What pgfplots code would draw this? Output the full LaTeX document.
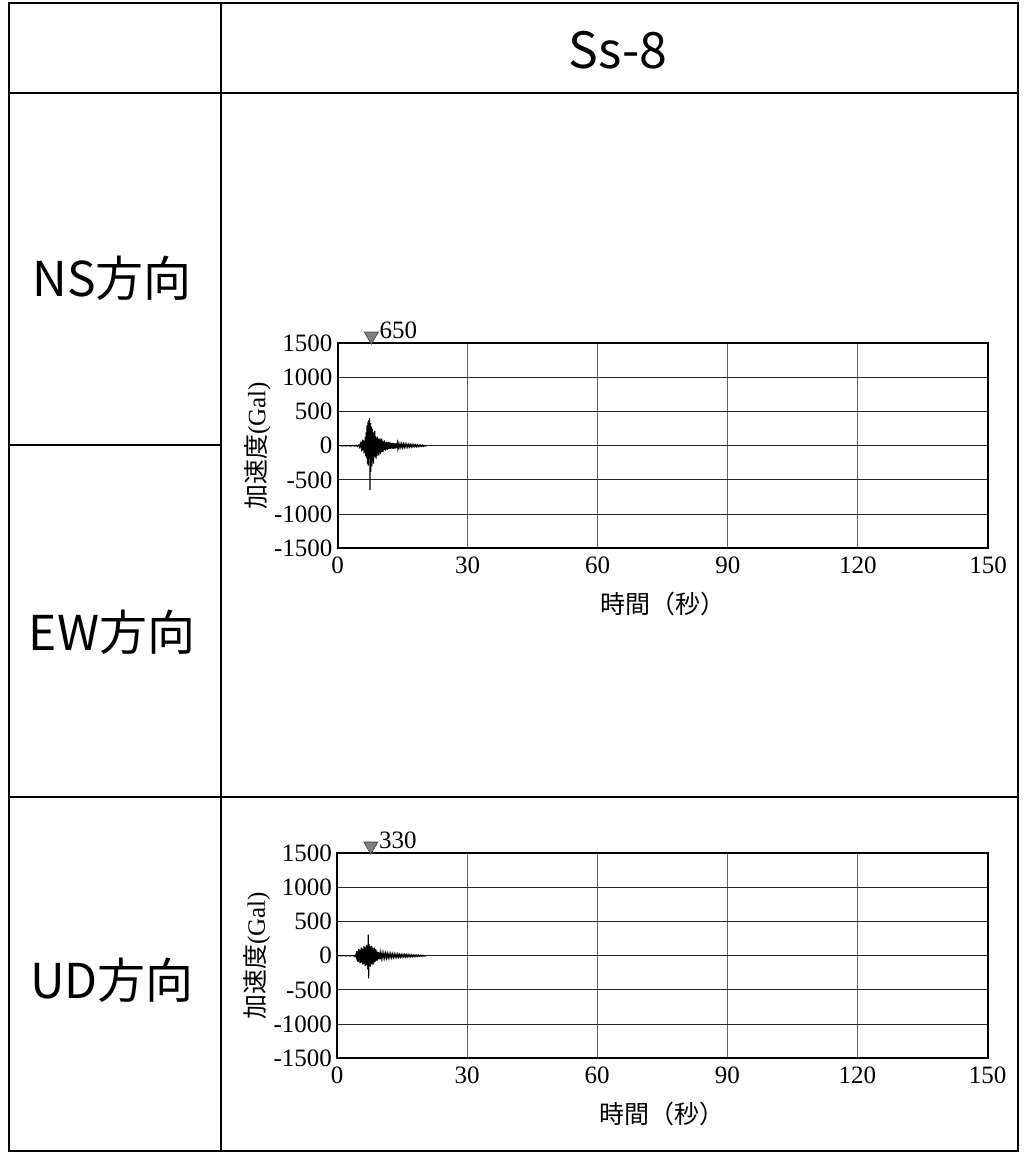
\documentclass[border=0pt]{standalone}
\usepackage{pgfplots}
\pgfplotsset{compat=1.18}
\usepackage{fontspec}
\setmainfont{Liberation Serif}
\newfontfamily\cjk{Noto Sans CJK JP}

\pgfplotsset{
  wave/.style={
    scale only axis, width=325.25pt, height=102.5pt,
    xmin=0, xmax=150, ymin=-1500, ymax=1500,
    xtick={0,30,60,90,120,150}, xticklabels={0,30,60,90,120,150},
    ytick={-1500,-1000,-500,0,500,1000,1500},
    yticklabels={-1500,-1000,-500,0,500,1000,1500},
    major tick length=0pt,
    grid=major,
    x grid style={black!60, line width=0.5pt},
    y grid style={black!85, line width=0.5pt},
    axis line style={line width=1pt},
    tick label style={font=\fontsize{12.5}{14}\selectfont},
    xticklabel style={yshift=-1pt},
    yticklabel style={xshift=1pt},
    xlabel={\cjk 時間（秒）},
    xlabel style={at={(axis description cs:0.5,0)}, anchor=center, yshift=-28pt, font=\fontsize{12.5}{14}\selectfont},
    ylabel={{\cjk 加速度}(Gal)},
    ylabel style={at={(axis description cs:-0.123,0.5)}, anchor=center, font=\fontsize{12.5}{14}\selectfont},
    clip=false,
  },
  peakmark/.style={only marks, mark=triangle*, mark size=4pt,
    mark options={rotate=180, fill=black!50, draw=black!70, line width=0.4pt, yshift=-3.6pt}},
}

\begin{document}
\begin{tikzpicture}
\useasboundingbox (0,0) rectangle (511.5pt,577.5pt);
% table frame
\draw[line width=1.3pt] (4.5pt,2pt) rectangle (509pt,576pt);
\draw[line width=1.3pt] (110.5pt,2pt) -- (110.5pt,576pt);
\draw[line width=1.3pt] (4.5pt,531pt) -- (509pt,531pt);
\draw[line width=1.3pt] (4.5pt,355pt) -- (110.5pt,355pt);
\draw[line width=1.3pt] (4.5pt,179pt) -- (509pt,179pt);
\node[font=\cjk\fontsize{25}{27}\selectfont] at (309pt,552.5pt) {Ss-8};
\node[font=\cjk\fontsize{24}{26}\selectfont] at (56pt,438.5pt) {NS方向};
\node[font=\cjk\fontsize{24}{26}\selectfont] at (56pt,261.5pt) {EW方向};
\node[font=\cjk\fontsize{24}{26}\selectfont] at (56pt,87.5pt) {UD方向};

% NS
\begin{axis}[wave, at={(168.75pt,303.35pt)}, anchor=south west]
\addplot[black, line width=0.55pt] coordinates {
(0,0) (0.5,2) (1,-2) (1.5,3) (2,-3) (2.5,4) (3,-4) (3.5,5) (4,-5) (4.3,8) (4.6,-10) (4.9,15)
(5.1,-20) (5.3,30) (5.5,-40) (5.6,60) (5.7,-70) (5.8,90) (5.9,-60) (6.0,80) (6.1,-110) (6.2,70)
(6.3,-90) (6.4,130) (6.5,-150) (6.6,200) (6.7,-180) (6.8,300) (6.9,-260) (7.0,350) (7.1,-290)
(7.2,380) (7.3,-200) (7.4,410) (7.5,-650) (7.6,330) (7.7,-380) (7.8,280) (7.9,-300) (8.0,250)
(8.1,-220) (8.2,200) (8.3,-260) (8.4,180) (8.5,-150) (8.6,220) (8.7,-170) (8.8,140) (8.9,-190)
(9.0,120) (9.1,-150) (9.2,130) (9.3,-110) (9.4,100) (9.5,-140) (9.6,110) (9.7,-100) (9.8,90)
(9.9,-120) (10.0,110) (10.1,-90) (10.2,100) (10.3,-80) (10.4,70) (10.5,-90) (10.6,60) (10.7,-70)
(10.8,80) (10.9,-60) (11.0,50) (11.1,-70) (11.2,60) (11.3,-50) (11.4,55) (11.5,-60) (11.6,45)
(11.7,-50) (11.8,60) (11.9,-45) (12.0,50) (12.1,-40) (12.2,45) (12.3,-50) (12.4,40) (12.5,-35)
(12.6,45) (12.7,-40) (12.8,35) (12.9,-45) (13.0,40) (13.1,-35) (13.2,30) (13.3,-40) (13.4,35)
(13.5,-30) (13.6,40) (13.7,-30) (13.8,28) (13.9,-32) (14.0,30) (14.2,-28) (14.4,32) (14.6,-26)
(14.8,30) (15.0,-25) (15.2,28) (15.4,-24) (15.6,26) (15.8,-22) (16.0,24) (16.2,-20) (16.4,22)
(16.6,-18) (16.8,20) (17.0,-17) (17.2,18) (17.4,-16) (17.6,17) (17.8,-14) (18.0,15) (18.2,-13)
(18.4,14) (18.6,-12) (18.8,12) (19.0,-10) (19.2,10) (19.4,-9) (19.6,9) (19.8,-8) (20.0,7)
(20.2,-5) (20.5,0)
};
\addplot[peakmark] coordinates {(7.8,1500)};
\node[anchor=base west, font=\fontsize{12.5}{14}\selectfont, inner sep=0pt] at (axis cs:9.6,1500) [yshift=2.5pt] {650};
\end{axis}

% UD
\begin{axis}[wave, at={(168.5pt,48.35pt)}, anchor=south west]
\addplot[black, line width=0.55pt] coordinates {
(0,0) (0.5,2) (1,-2) (1.5,3) (2,-3) (2.5,3) (3,-3) (3.5,4) (4.0,-5) (4.2,-10) (4.4,30) (4.5,-50)
(4.6,70) (4.7,-80) (4.8,60) (4.9,-90) (5.0,100) (5.1,-70) (5.2,90) (5.3,-110) (5.4,80) (5.5,-100)
(5.6,120) (5.7,-90) (5.8,110) (5.9,-130) (6.0,100) (6.1,-120) (6.2,140) (6.3,-110) (6.4,130)
(6.5,-150) (6.6,120) (6.7,-140) (6.8,160) (6.9,-120) (7.0,150) (7.1,-200) (7.2,310) (7.3,-330)
(7.4,170) (7.5,-150) (7.6,140) (7.7,-160) (7.8,130) (7.9,-120) (8.0,140) (8.1,-110) (8.2,120)
(8.3,-130) (8.4,100) (8.5,-110) (8.6,120) (8.7,-90) (8.8,100) (8.9,-80) (9.0,90) (9.1,-70)
(9.2,60) (9.3,-70) (9.4,60) (9.5,-50) (9.6,55) (9.7,-50) (9.8,45) (9.9,-50) (10.0,45) (10.2,-40)
(10.4,45) (10.6,-38) (10.8,40) (11.0,-35) (11.2,38) (11.4,-32) (11.6,35) (11.8,-30) (12.0,32)
(12.2,-28) (12.4,30) (12.6,-27) (12.8,28) (13.0,-25) (13.2,27) (13.4,-24) (13.6,25) (13.8,-22)
(14.0,24) (14.2,-21) (14.4,22) (14.6,-20) (14.8,21) (15.0,-19) (15.2,20) (15.4,-18) (15.6,19)
(15.8,-17) (16.0,18) (16.2,-16) (16.4,17) (16.6,-15) (16.8,15) (17.0,-14) (17.2,14) (17.4,-13)
(17.6,13) (17.8,-12) (18.0,12) (18.2,-11) (18.4,11) (18.6,-10) (18.8,10) (19.0,-9) (19.2,9)
(19.4,-8) (19.6,8) (19.8,-7) (20.0,6) (20.2,-4) (20.5,0)
};
\addplot[peakmark] coordinates {(7.8,1500)};
\node[anchor=base west, font=\fontsize{12.5}{14}\selectfont, inner sep=0pt] at (axis cs:9.6,1500) [yshift=2.5pt] {330};
\end{axis}
\end{tikzpicture}
\end{document}
